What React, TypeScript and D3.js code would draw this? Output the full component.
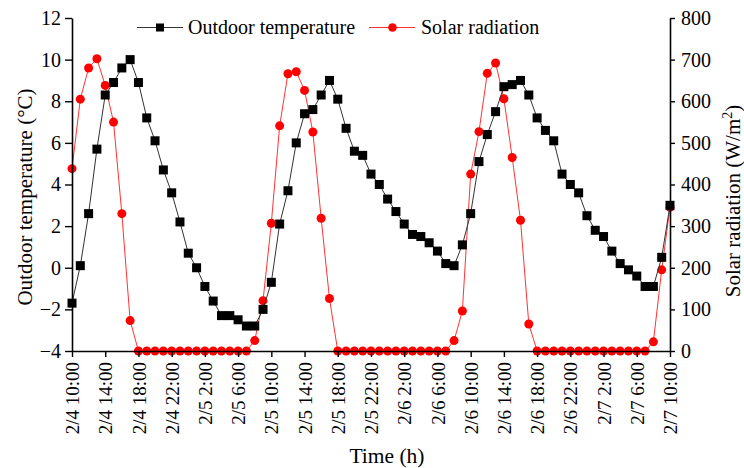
import React, { useEffect, useRef } from 'react';
import * as d3 from 'd3';

const WIDTH = 744;
const HEIGHT = 468;
const margin = { l: 72, r: 74, t: 18, b: 117 };
const FONT = '"Liberation Serif", "Times New Roman", serif';

// hourly readings from 2/4 10:00 to 2/7 10:00
const temperature = [
  -1.7, 0.1, 2.6, 5.7, 8.3, 8.9, 9.6, 10.0, 8.9, 7.2, 6.1, 4.7, 3.6, 2.2, 0.7, 0.0, -0.9, -1.6,
  -2.3, -2.3, -2.5, -2.8, -2.8, -2.0, -0.7, 2.1, 3.7, 6.0, 7.4, 7.6, 8.3, 9.0, 8.1, 6.7, 5.6,
  5.4, 4.5, 4.0, 3.3, 2.7, 2.1, 1.6, 1.5, 1.2, 0.8, 0.2, 0.1, 1.1, 2.6, 5.1, 6.4, 7.5, 8.7, 8.8,
  9.0, 8.3, 7.2, 6.6, 6.1, 4.5, 4.0, 3.6, 2.5, 1.8, 1.5, 0.8, 0.2, -0.1, -0.4, -0.9, -0.9, 0.5,
  3.0,
];

const radiation = [
  438, 605, 680, 702, 638, 550, 330, 73, 0, 0, 0, 0, 0, 0, 0, 0, 0, 0, 0, 0, 0, 0, 25, 121, 307,
  541, 666, 671, 626, 526, 319, 126, 0, 0, 0, 0, 0, 0, 0, 0, 0, 0, 0, 0, 0, 0, 25, 96, 425, 527,
  667, 692, 606, 465, 314, 65, 0, 0, 0, 0, 0, 0, 0, 0, 0, 0, 0, 0, 0, 0, 22, 195, 345,
];

const timeTicks = [
  '2/4 10:00', '2/4 14:00', '2/4 18:00', '2/4 22:00', '2/5 2:00', '2/5 6:00', '2/5 10:00',
  '2/5 14:00', '2/5 18:00', '2/5 22:00', '2/6 2:00', '2/6 6:00', '2/6 10:00', '2/6 14:00',
  '2/6 18:00', '2/6 22:00', '2/7 2:00', '2/7 6:00', '2/7 10:00',
];

const tempTicks = [-4, -2, 0, 2, 4, 6, 8, 10, 12];
const radTicks = [0, 100, 200, 300, 400, 500, 600, 700, 800];

const App = () => {
  const w = WIDTH - margin.l - margin.r;
  const h = HEIGHT - margin.t - margin.b;

  const x = d3.scaleLinear().domain([0, 72]).range([0, w]);
  const yL = d3.scaleLinear().domain([-4, 12]).range([h, 0]);
  const yR = d3.scaleLinear().domain([0, 800]).range([h, 0]);

  const $x: any = useRef(null);
  const $yl: any = useRef(null);
  const $yr: any = useRef(null);

  useEffect(() => {
    const style = (g: any, size: number) => {
      g.selectAll('path.domain').attr('stroke', '#000').attr('stroke-width', 1.6);
      g.selectAll('.tick line').attr('stroke', '#000').attr('stroke-width', 1.4);
      g.selectAll('text').attr('font-family', FONT).attr('font-size', size).attr('fill', '#000');
    };
    const xAxis = d3
      .axisBottom(x)
      .tickValues(timeTicks.map((_, i) => i * 4))
      .tickFormat((_, i) => timeTicks[i])
      .tickSize(6)
      .tickSizeOuter(0);
    const gx = d3.select($x.current).call(xAxis as any);
    style(gx, 19);
    gx.selectAll('text')
      .attr('transform', 'rotate(-90)')
      .attr('text-anchor', 'end')
      .attr('x', -11)
      .attr('y', 0)
      .attr('dy', '0.35em');

    const gl = d3
      .select($yl.current)
      .call(d3.axisLeft(yL).tickValues(tempTicks).tickSize(7).tickSizeOuter(0) as any);
    style(gl, 20);
    gl.selectAll('text').attr('x', -11);

    const gr = d3
      .select($yr.current)
      .call(d3.axisRight(yR).tickValues(radTicks).tickSize(5).tickSizeOuter(0) as any);
    style(gr, 20);
    gr.selectAll('text').attr('x', 11);
  }, []);

  const tLine = d3
    .line<number>()
    .x((_, i) => x(i))
    .y((d) => yL(d));
  const rLine = d3
    .line<number>()
    .x((_, i) => x(i))
    .y((d) => yR(d));

  return (
    <svg
      width={WIDTH}
      height={HEIGHT}
      style={{ position: 'absolute', left: 0, top: 0, background: '#fff' }}
      fontFamily={FONT}
    >
      <g transform={`translate(${margin.l}, ${margin.t})`}>
        <path d={rLine(radiation) || ''} fill="none" stroke="#ff3333" strokeWidth={1} />
        {radiation.map((d, i) => (
          <circle key={`r-${i}`} cx={x(i)} cy={yR(d)} r={4.5} fill="#ff0000" />
        ))}
        <path d={tLine(temperature) || ''} fill="none" stroke="#333" strokeWidth={1} />
        {temperature.map((d, i) => (
          <rect key={`t-${i}`} x={x(i) - 4.5} y={yL(d) - 4.5} width={9} height={9} fill="#000" />
        ))}
        <g ref={$x} transform={`translate(0, ${h})`} />
        <g ref={$yl} />
        <g ref={$yr} transform={`translate(${w}, 0)`} />
      </g>

      {/* legend */}
      <line x1={137} x2={183} y1={27.5} y2={27.5} stroke="#333" strokeWidth={1} />
      <rect x={156} y={23.5} width={8} height={8} fill="#000" />
      <text x={188} y={34} fontSize={20}>
        Outdoor temperature
      </text>
      <line x1={369} x2={415} y1={27.5} y2={27.5} stroke="#ff3333" strokeWidth={1} />
      <circle cx={392.5} cy={27.5} r={4.3} fill="#ff0000" />
      <text x={421} y={34} fontSize={20}>
        Solar radiation
      </text>

      <text x={387} y={463} fontSize={21.5} textAnchor="middle">
        Time (h)
      </text>
      <text transform="translate(32, 197) rotate(-90)" fontSize={21} textAnchor="middle">
        Outdoor temperature (°C)
      </text>
      <text transform="translate(740, 201) rotate(-90)" fontSize={21} textAnchor="middle">
        Solar radiation (W/m
        <tspan fontSize={14} dy={-8}>
          2
        </tspan>
        <tspan dy={8}>)</tspan>
      </text>
    </svg>
  );
};

export default App;
